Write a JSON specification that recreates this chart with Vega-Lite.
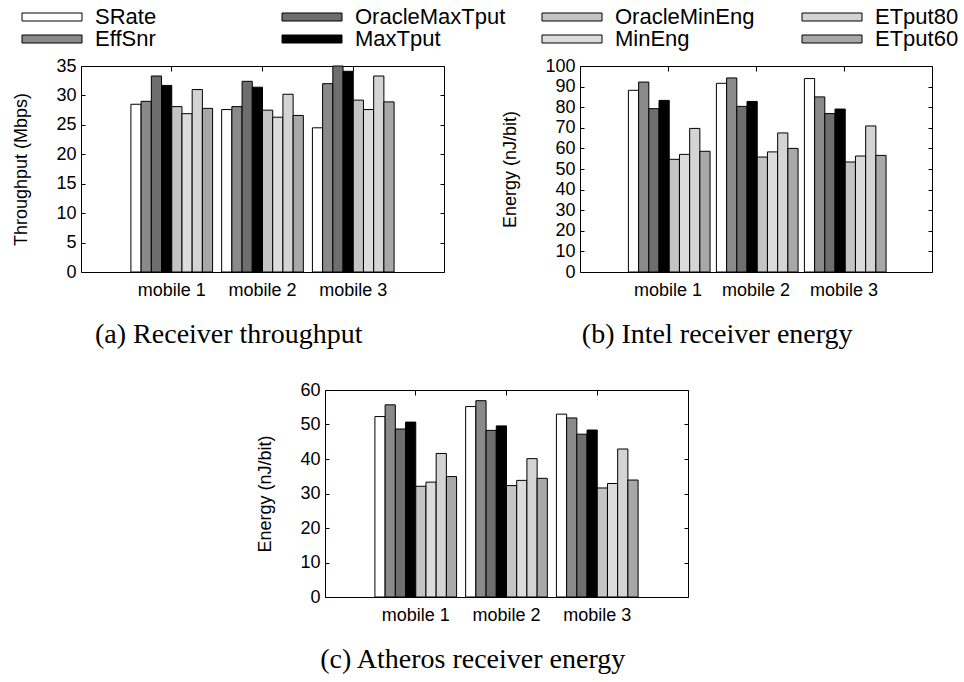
{
  "$schema": "https://vega.github.io/schema/vega-lite/v6.json",
  "background": "white",
  "padding": {"left": 12, "top": 6, "right": 5, "bottom": 5},
  "datasets": {
    "bars": [
      {"panel": "a", "mobile": "mobile 1", "scheme": "SRate", "value": 28.5},
      {"panel": "a", "mobile": "mobile 1", "scheme": "EffSnr", "value": 29.0},
      {"panel": "a", "mobile": "mobile 1", "scheme": "OracleMaxTput", "value": 33.3},
      {"panel": "a", "mobile": "mobile 1", "scheme": "MaxTput", "value": 31.7},
      {"panel": "a", "mobile": "mobile 1", "scheme": "OracleMinEng", "value": 28.1},
      {"panel": "a", "mobile": "mobile 1", "scheme": "MinEng", "value": 26.9},
      {"panel": "a", "mobile": "mobile 1", "scheme": "ETput80", "value": 31.0},
      {"panel": "a", "mobile": "mobile 1", "scheme": "ETput60", "value": 27.8},
      {"panel": "a", "mobile": "mobile 2", "scheme": "SRate", "value": 27.6},
      {"panel": "a", "mobile": "mobile 2", "scheme": "EffSnr", "value": 28.1},
      {"panel": "a", "mobile": "mobile 2", "scheme": "OracleMaxTput", "value": 32.4},
      {"panel": "a", "mobile": "mobile 2", "scheme": "MaxTput", "value": 31.4},
      {"panel": "a", "mobile": "mobile 2", "scheme": "OracleMinEng", "value": 27.5},
      {"panel": "a", "mobile": "mobile 2", "scheme": "MinEng", "value": 26.3},
      {"panel": "a", "mobile": "mobile 2", "scheme": "ETput80", "value": 30.2},
      {"panel": "a", "mobile": "mobile 2", "scheme": "ETput60", "value": 26.6},
      {"panel": "a", "mobile": "mobile 3", "scheme": "SRate", "value": 24.5},
      {"panel": "a", "mobile": "mobile 3", "scheme": "EffSnr", "value": 32.0},
      {"panel": "a", "mobile": "mobile 3", "scheme": "OracleMaxTput", "value": 35.0},
      {"panel": "a", "mobile": "mobile 3", "scheme": "MaxTput", "value": 34.1},
      {"panel": "a", "mobile": "mobile 3", "scheme": "OracleMinEng", "value": 29.2},
      {"panel": "a", "mobile": "mobile 3", "scheme": "MinEng", "value": 27.6},
      {"panel": "a", "mobile": "mobile 3", "scheme": "ETput80", "value": 33.3},
      {"panel": "a", "mobile": "mobile 3", "scheme": "ETput60", "value": 28.9},

      {"panel": "b", "mobile": "mobile 1", "scheme": "SRate", "value": 88.2},
      {"panel": "b", "mobile": "mobile 1", "scheme": "EffSnr", "value": 92.2},
      {"panel": "b", "mobile": "mobile 1", "scheme": "OracleMaxTput", "value": 79.3},
      {"panel": "b", "mobile": "mobile 1", "scheme": "MaxTput", "value": 83.3},
      {"panel": "b", "mobile": "mobile 1", "scheme": "OracleMinEng", "value": 54.7},
      {"panel": "b", "mobile": "mobile 1", "scheme": "MinEng", "value": 57.1},
      {"panel": "b", "mobile": "mobile 1", "scheme": "ETput80", "value": 69.7},
      {"panel": "b", "mobile": "mobile 1", "scheme": "ETput60", "value": 58.6},
      {"panel": "b", "mobile": "mobile 2", "scheme": "SRate", "value": 91.6},
      {"panel": "b", "mobile": "mobile 2", "scheme": "EffSnr", "value": 94.2},
      {"panel": "b", "mobile": "mobile 2", "scheme": "OracleMaxTput", "value": 80.4},
      {"panel": "b", "mobile": "mobile 2", "scheme": "MaxTput", "value": 82.8},
      {"panel": "b", "mobile": "mobile 2", "scheme": "OracleMinEng", "value": 55.8},
      {"panel": "b", "mobile": "mobile 2", "scheme": "MinEng", "value": 58.3},
      {"panel": "b", "mobile": "mobile 2", "scheme": "ETput80", "value": 67.5},
      {"panel": "b", "mobile": "mobile 2", "scheme": "ETput60", "value": 60.0},
      {"panel": "b", "mobile": "mobile 3", "scheme": "SRate", "value": 93.9},
      {"panel": "b", "mobile": "mobile 3", "scheme": "EffSnr", "value": 85.0},
      {"panel": "b", "mobile": "mobile 3", "scheme": "OracleMaxTput", "value": 76.9},
      {"panel": "b", "mobile": "mobile 3", "scheme": "MaxTput", "value": 79.1},
      {"panel": "b", "mobile": "mobile 3", "scheme": "OracleMinEng", "value": 53.4},
      {"panel": "b", "mobile": "mobile 3", "scheme": "MinEng", "value": 56.3},
      {"panel": "b", "mobile": "mobile 3", "scheme": "ETput80", "value": 70.9},
      {"panel": "b", "mobile": "mobile 3", "scheme": "ETput60", "value": 56.6},

      {"panel": "c", "mobile": "mobile 1", "scheme": "SRate", "value": 52.3},
      {"panel": "c", "mobile": "mobile 1", "scheme": "EffSnr", "value": 55.7},
      {"panel": "c", "mobile": "mobile 1", "scheme": "OracleMaxTput", "value": 48.7},
      {"panel": "c", "mobile": "mobile 1", "scheme": "MaxTput", "value": 50.7},
      {"panel": "c", "mobile": "mobile 1", "scheme": "OracleMinEng", "value": 32.1},
      {"panel": "c", "mobile": "mobile 1", "scheme": "MinEng", "value": 33.3},
      {"panel": "c", "mobile": "mobile 1", "scheme": "ETput80", "value": 41.6},
      {"panel": "c", "mobile": "mobile 1", "scheme": "ETput60", "value": 34.9},
      {"panel": "c", "mobile": "mobile 2", "scheme": "SRate", "value": 55.2},
      {"panel": "c", "mobile": "mobile 2", "scheme": "EffSnr", "value": 56.9},
      {"panel": "c", "mobile": "mobile 2", "scheme": "OracleMaxTput", "value": 48.3},
      {"panel": "c", "mobile": "mobile 2", "scheme": "MaxTput", "value": 49.6},
      {"panel": "c", "mobile": "mobile 2", "scheme": "OracleMinEng", "value": 32.3},
      {"panel": "c", "mobile": "mobile 2", "scheme": "MinEng", "value": 33.8},
      {"panel": "c", "mobile": "mobile 2", "scheme": "ETput80", "value": 40.1},
      {"panel": "c", "mobile": "mobile 2", "scheme": "ETput60", "value": 34.4},
      {"panel": "c", "mobile": "mobile 3", "scheme": "SRate", "value": 53.0},
      {"panel": "c", "mobile": "mobile 3", "scheme": "EffSnr", "value": 51.9},
      {"panel": "c", "mobile": "mobile 3", "scheme": "OracleMaxTput", "value": 47.2},
      {"panel": "c", "mobile": "mobile 3", "scheme": "MaxTput", "value": 48.4},
      {"panel": "c", "mobile": "mobile 3", "scheme": "OracleMinEng", "value": 31.6},
      {"panel": "c", "mobile": "mobile 3", "scheme": "MinEng", "value": 32.9},
      {"panel": "c", "mobile": "mobile 3", "scheme": "ETput80", "value": 42.9},
      {"panel": "c", "mobile": "mobile 3", "scheme": "ETput60", "value": 33.9}
    ]
  },
  "data": {"name": "bars"},
  "spacing": 30,
  "center": true,
  "vconcat": [
    {
      "spacing": 56,
      "hconcat": [
        {
          "width": 363,
          "height": 206,
          "title": {"text": "(a) Receiver throughput"},
          "transform": [{"filter": "datum.panel === 'a'"}],
          "layer": [
            {
              "mark": {"type": "bar", "stroke": "black", "strokeWidth": 1},
              "encoding": {
                "x": {"field": "mobile", "type": "nominal", "scale": {"paddingInner": 0.1, "paddingOuter": 0.55}, "axis": {"title": null, "labelAngle": 0, "ticks": false, "labelPadding": 9}},
                "xOffset": {"field": "scheme", "type": "nominal", "scale": {"domain": ["SRate", "EffSnr", "OracleMaxTput", "MaxTput", "OracleMinEng", "MinEng", "ETput80", "ETput60"], "paddingInner": 0, "paddingOuter": 0}},
                "y": {"field": "value", "type": "quantitative", "scale": {"domain": [0, 35], "nice": false}, "axis": {"title": "Throughput (Mbps)", "values": [0, 5, 10, 15, 20, 25, 30, 35], "tickSize": -4, "labelPadding": 9}},
                "color": {
                  "field": "scheme", "type": "nominal",
                  "scale": {
                    "domain": ["SRate", "OracleMaxTput", "OracleMinEng", "ETput80", "EffSnr", "MaxTput", "MinEng", "ETput60"],
                    "range": ["#ffffff", "#6e6e6e", "#c4c4c4", "#d4d4d4", "#8a8a8a", "#000000", "#dcdcdc", "#a8a8a8"]
                  },
                  "legend": {"orient": "none", "legendX": -40, "legendY": -60}
                }
              }
            },
            {
              "mark": {"type": "point", "opacity": 0},
              "encoding": {
                "x": {"field": "mobile", "type": "nominal", "scale": {"paddingInner": 0.1, "paddingOuter": 0.55}, "axis": {"orient": "top", "title": null, "labels": false, "tickSize": -5}},
                "y": {"field": "value", "type": "quantitative", "scale": {"domain": [0, 35], "nice": false}, "axis": {"orient": "right", "title": null, "labels": false, "values": [0, 5, 10, 15, 20, 25, 30, 35], "tickSize": -4}}
              }
            }
          ],
          "resolve": {"axis": {"x": "independent", "y": "independent"}}
        },
        {
          "width": 352,
          "height": 206,
          "title": {"text": "(b) Intel receiver energy"},
          "transform": [{"filter": "datum.panel === 'b'"}],
          "layer": [
            {
              "mark": {"type": "bar", "stroke": "black", "strokeWidth": 1},
              "encoding": {
                "x": {"field": "mobile", "type": "nominal", "scale": {"paddingInner": 0.1, "paddingOuter": 0.55}, "axis": {"title": null, "labelAngle": 0, "ticks": false, "labelPadding": 9}},
                "xOffset": {"field": "scheme", "type": "nominal", "scale": {"domain": ["SRate", "EffSnr", "OracleMaxTput", "MaxTput", "OracleMinEng", "MinEng", "ETput80", "ETput60"], "paddingInner": 0, "paddingOuter": 0}},
                "y": {"field": "value", "type": "quantitative", "scale": {"domain": [0, 100], "nice": false}, "axis": {"title": "Energy (nJ/bit)", "values": [0, 10, 20, 30, 40, 50, 60, 70, 80, 90, 100], "tickSize": -4, "labelPadding": 9}},
                "color": {"field": "scheme", "type": "nominal"}
              }
            },
            {
              "mark": {"type": "point", "opacity": 0},
              "encoding": {
                "x": {"field": "mobile", "type": "nominal", "scale": {"paddingInner": 0.1, "paddingOuter": 0.55}, "axis": {"orient": "top", "title": null, "labels": false, "tickSize": -5}},
                "y": {"field": "value", "type": "quantitative", "scale": {"domain": [0, 100], "nice": false}, "axis": {"orient": "right", "title": null, "labels": false, "values": [0, 10, 20, 30, 40, 50, 60, 70, 80, 90, 100], "tickSize": -4}}
              }
            }
          ],
          "resolve": {"axis": {"x": "independent", "y": "independent"}}
        }
      ]
    },
    {
      "width": 363,
      "height": 207,
      "title": {"text": "(c) Atheros receiver energy"},
      "transform": [{"filter": "datum.panel === 'c'"}],
      "layer": [
        {
          "mark": {"type": "bar", "stroke": "black", "strokeWidth": 1},
          "encoding": {
            "x": {"field": "mobile", "type": "nominal", "scale": {"paddingInner": 0.1, "paddingOuter": 0.55}, "axis": {"title": null, "labelAngle": 0, "ticks": false, "labelPadding": 9}},
            "xOffset": {"field": "scheme", "type": "nominal", "scale": {"domain": ["SRate", "EffSnr", "OracleMaxTput", "MaxTput", "OracleMinEng", "MinEng", "ETput80", "ETput60"], "paddingInner": 0, "paddingOuter": 0}},
            "y": {"field": "value", "type": "quantitative", "scale": {"domain": [0, 60], "nice": false}, "axis": {"title": "Energy (nJ/bit)", "values": [0, 10, 20, 30, 40, 50, 60], "tickSize": -4, "labelPadding": 9}},
            "color": {"field": "scheme", "type": "nominal"}
          }
        },
        {
          "mark": {"type": "point", "opacity": 0},
          "encoding": {
            "x": {"field": "mobile", "type": "nominal", "scale": {"paddingInner": 0.1, "paddingOuter": 0.55}, "axis": {"orient": "top", "title": null, "labels": false, "tickSize": -5}},
            "y": {"field": "value", "type": "quantitative", "scale": {"domain": [0, 60], "nice": false}, "axis": {"orient": "right", "title": null, "labels": false, "values": [0, 10, 20, 30, 40, 50, 60], "tickSize": -4}}
          }
        }
      ],
      "resolve": {"axis": {"x": "independent", "y": "independent"}}
    }
  ],
  "config": {
    "font": "Liberation Sans",
    "view": {"stroke": "black", "strokeWidth": 1},
    "axis": {
      "grid": false,
      "domain": false,
      "tickColor": "black",
      "tickWidth": 1,
      "labelFont": "Liberation Sans",
      "labelFontSize": 18,
      "labelColor": "black",
      "titleFont": "Liberation Sans",
      "titleFontSize": 18,
      "titleFontWeight": "normal",
      "titleColor": "black",
      "titlePadding": 25
    },
    "title": {
      "orient": "bottom",
      "anchor": "middle",
      "frame": "bounds",
      "font": "Liberation Serif",
      "fontSize": 28,
      "fontWeight": "normal",
      "color": "black",
      "offset": 22
    },
    "legend": {
      "title": null,
      "columns": 4,
      "direction": "horizontal",
      "gridAlign": "all",
      "columnPadding": 34,
      "rowPadding": -13,
      "symbolType": "M-3,-0.4H3V0.4H-3Z",
      "symbolSize": 400,
      "symbolStrokeColor": "black",
      "symbolStrokeWidth": 1,
      "symbolOpacity": 1,
      "labelFont": "Liberation Sans",
      "labelFontSize": 22,
      "labelColor": "black",
      "labelOffset": 32,
      "labelLimit": 400
    }
  }
}
